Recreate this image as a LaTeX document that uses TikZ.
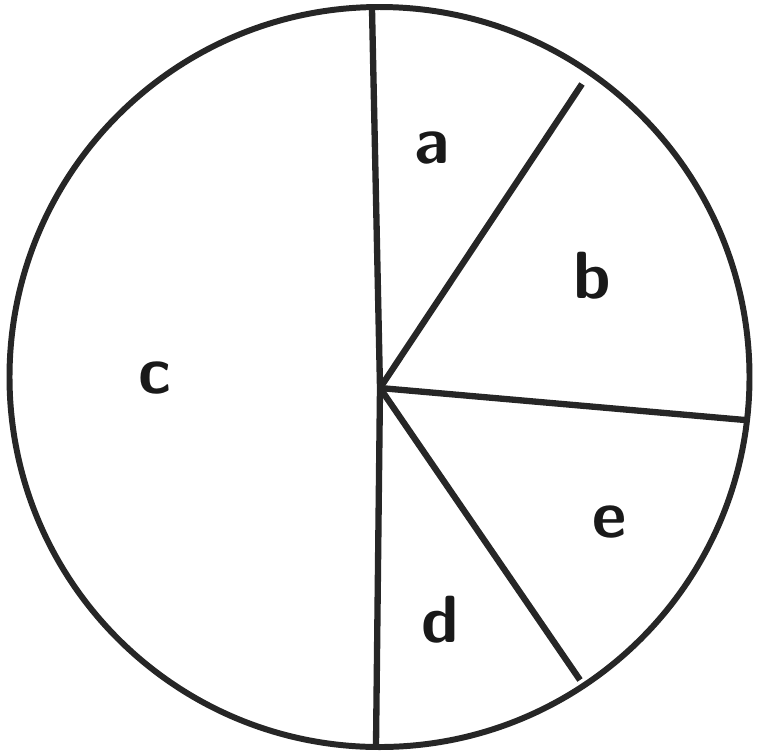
\documentclass[tikz,border=0pt]{standalone}
\begin{document}
\begin{tikzpicture}[
  rim/.style={line width=1.7pt, draw=black!85},
  spoke/.style={line width=1.8pt, draw=black!85},
  lbl/.style={font=\fontsize{19}{23}\selectfont\sffamily\bfseries, text=black!90, inner sep=0pt}
]
\useasboundingbox (0,0) rectangle (7.68,-7.50);
\coordinate (C) at (3.795,-3.77);
\coordinate (hub) at (3.80,-3.88);
\coordinate (top) at (3.72,-0.09);
\coordinate (bot) at (3.76,-7.45);
\draw[rim] (C) circle (3.70);
\coordinate (p1) at (5.82,-0.84);
\coordinate (p2) at (7.45,-4.20);
\coordinate (p3) at (5.80,-6.80);
\draw[spoke] (top) -- (hub) -- (bot);
\draw[spoke] (hub) -- (p1);
\draw[spoke] (hub) -- (p2);
\draw[spoke] (hub) -- (p3);
\node[lbl] (la) at (4.32,-1.48) {a};
\node[lbl] (lb) at (5.92,-2.76) {b};
\node[lbl] (lc) at (1.55,-3.78) {c};
\node[lbl] (le) at (6.10,-5.22) {e};
\node[lbl] (ld) at (4.40,-6.20) {d};
\end{tikzpicture}
\end{document}
